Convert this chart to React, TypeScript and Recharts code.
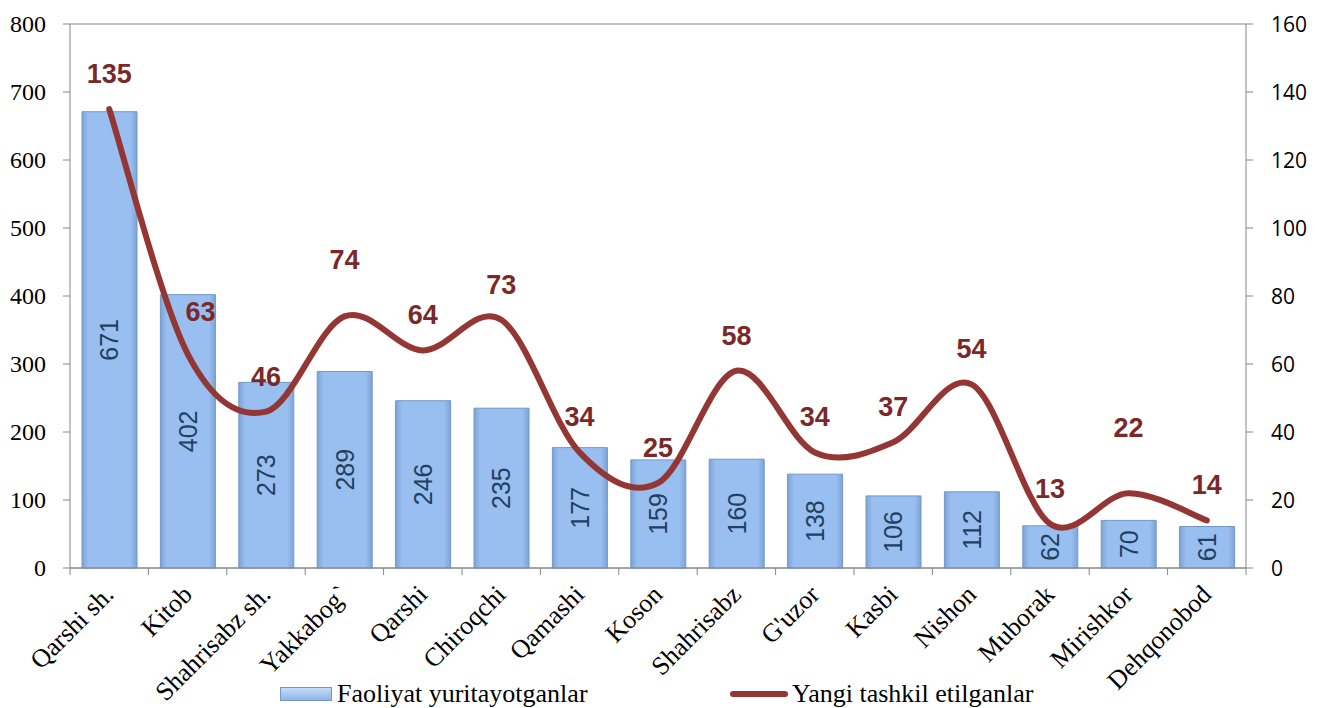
import { Bar, CartesianGrid, ComposedChart, LabelList, Line, XAxis, YAxis } from 'recharts';

const categories = ['Qarshi sh.', 'Kitob', 'Shahrisabz sh.', 'Yakkabog`', 'Qarshi', 'Chiroqchi', 'Qamashi', 'Koson', 'Shahrisabz', "G'uzor", 'Kasbi', 'Nishon', 'Muborak', 'Mirishkor', 'Dehqonobod'];
const faoliyat = [671, 402, 273, 289, 246, 235, 177, 159, 160, 138, 106, 112, 62, 70, 61];
const yangi = [135, 63, 46, 74, 64, 73, 34, 25, 58, 34, 37, 54, 13, 22, 14];
const leftTicks = [0, 100, 200, 300, 400, 500, 600, 700, 800];
const rightTicks = [0, 20, 40, 60, 80, 100, 120, 140, 160];

const data = categories.map((name, i) => ({ name, faoliyat: faoliyat[i], yangi: yangi[i] }));

const W = 1311;
const H = 700;
const LEFT_W = 62;
const RIGHT_W = 73;
const STEP = (W - LEFT_W - RIGHT_W) / categories.length;
const SERIF = "'Liberation Serif', 'Times New Roman', serif";
const SANS = "'Liberation Sans', Arial, sans-serif";

// label nudges where Excel moved a data label away from the default spot
const labelNudge: Record<number, [number, number]> = { 1: [13, -7], 3: [0, -21], 13: [0, -30] };

// Excel-like smoothed line (Catmull-Rom through every point)
const excelSmooth = (ctx: any) => {
  let pts: [number, number][] = [];
  return {
    areaStart() {},
    areaEnd() {},
    lineStart() { pts = []; },
    point(x: number, y: number) { pts.push([+x, +y]); },
    lineEnd() {
      if (!pts.length) return;
      ctx.moveTo(pts[0][0], pts[0][1]);
      for (let i = 0; i < pts.length - 1; i++) {
        const p0 = pts[i - 1] || pts[i];
        const p1 = pts[i];
        const p2 = pts[i + 1];
        const p3 = pts[i + 2] || p2;
        ctx.bezierCurveTo(
          p1[0] + (p2[0] - p0[0]) / 6, p1[1] + (p2[1] - p0[1]) / 6,
          p2[0] - (p3[0] - p1[0]) / 6, p2[1] - (p3[1] - p1[1]) / 6,
          p2[0], p2[1],
        );
      }
    },
  };
};

const XTick = (props: any) => {
  const { x, y, payload } = props;
  const tx = x + 6;
  const ty = y + 20;
  return (
    <g>
      <line x1={x + STEP / 2} y1={y - 8} x2={x + STEP / 2} y2={y - 1} stroke="#868686" />
      {payload.index === 0 && <line x1={x - STEP / 2} y1={y - 8} x2={x - STEP / 2} y2={y - 1} stroke="#868686" />}
      <text x={tx} y={ty} transform={`rotate(-45, ${tx}, ${ty})`} textAnchor="end" fontFamily={SERIF} fontSize={26} fill="#000">
        {payload.value}
      </text>
    </g>
  );
};

const LeftTick = (props: any) => {
  const { x, y, payload } = props;
  return (
    <text x={x} y={y} textAnchor="end" dominantBaseline="central" fontFamily={SERIF} fontSize={24} fill="#000">
      {payload.value}
    </text>
  );
};

const RightTick = (props: any) => {
  const { x, y, payload } = props;
  return (
    <text x={x} y={y} textAnchor="start" dominantBaseline="central" fontFamily="'Open Sans', sans-serif" fontSize={21} fill="#000">
      {payload.value}
    </text>
  );
};

const BarValue = (props: any) => {
  const { x, y, width, height, value } = props;
  const cx = x + width / 2;
  const cy = y + height / 2;
  return (
    <text
      x={cx}
      y={cy}
      transform={`rotate(-90, ${cx}, ${cy})`}
      textAnchor="middle"
      dominantBaseline="central"
      fontFamily={SANS}
      fontSize={25}
      fill="#22405F"
    >
      {value}
    </text>
  );
};

const LineValue = (props: any) => {
  const { x, y, value, index } = props;
  const [dx, dy] = labelNudge[index] || [0, 0];
  return (
    <text
      x={x + dx}
      y={y - 35 + dy}
      textAnchor="middle"
      dominantBaseline="central"
      fontFamily={SANS}
      fontSize={27}
      fontWeight="bold"
      fill="#7A2828"
    >
      {value}
    </text>
  );
};

export default function App() {
  return (
    <div style={{ position: 'relative', width: W, height: H, background: '#fff' }}>
      <ComposedChart width={W} height={H} data={data} margin={{ top: 16, right: 0, left: 0, bottom: 0 }}>
        <defs>
          <linearGradient id="barFill" x1="0" y1="0" x2="1" y2="0">
            <stop offset="0%" stopColor="#7EA4D8" />
            <stop offset="12%" stopColor="#98BFEF" />
            <stop offset="88%" stopColor="#98BFEF" />
            <stop offset="100%" stopColor="#7EA4D8" />
          </linearGradient>
        </defs>
        <CartesianGrid vertical={false} stroke="#868686" strokeWidth={1} />
        <XAxis dataKey="name" height={140} interval={0} tickLine={false} axisLine={{ stroke: '#868686' }} tick={<XTick />} />
        <YAxis
          yAxisId="left"
          width={LEFT_W}
          domain={[0, 800]}
          ticks={leftTicks}
          interval={0}
          axisLine={{ stroke: '#868686' }}
          tickLine={{ stroke: '#868686' }}
          tickSize={7}
          tickMargin={17}
          tick={<LeftTick />}
        />
        <YAxis
          yAxisId="right"
          orientation="right"
          width={RIGHT_W}
          domain={[0, 160]}
          ticks={rightTicks}
          interval={0}
          axisLine={{ stroke: '#868686' }}
          tickLine={{ stroke: '#868686' }}
          tickSize={7}
          tickMargin={18}
          tick={<RightTick />}
        />
        <Bar yAxisId="left" dataKey="faoliyat" barSize={55} fill="url(#barFill)" stroke="#7296C6" strokeWidth={1} isAnimationActive={false}>
          <LabelList dataKey="faoliyat" content={<BarValue />} />
        </Bar>
        <Line
          yAxisId="right"
          type={excelSmooth as any}
          dataKey="yangi"
          stroke="#943634"
          strokeWidth={6}
          strokeLinecap="round"
          dot={false}
          isAnimationActive={false}
        >
          <LabelList dataKey="yangi" content={<LineValue />} />
        </Line>
      </ComposedChart>
      <div style={{ position: 'absolute', left: 272, top: 671, display: 'flex', alignItems: 'center', fontFamily: SERIF, fontSize: 26 }}>
        <div style={{ width: 50, height: 12, background: 'linear-gradient(#C4DCF8, #8FB4E6)', border: '1px solid #7296C6', marginRight: 5 }} />
        <span>Faoliyat yuritayotganlar</span>
      </div>
      <div style={{ position: 'absolute', left: 722, top: 671, display: 'flex', alignItems: 'center', fontFamily: SERIF, fontSize: 26 }}>
        <div style={{ width: 58, height: 6, background: '#943634', borderRadius: 3, marginRight: 4 }} />
        <span>Yangi tashkil etilganlar</span>
      </div>
    </div>
  );
}
